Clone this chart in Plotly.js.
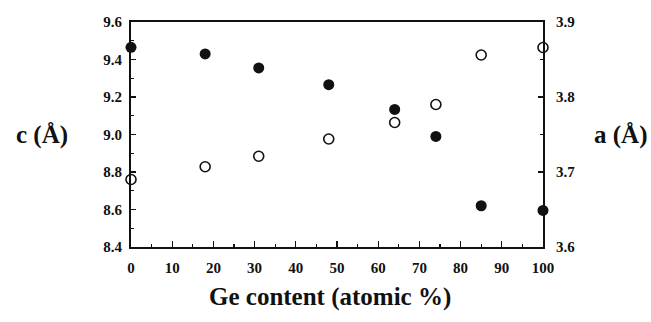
<!DOCTYPE html>
<html><head><meta charset="utf-8">
<script src="https://cdn.plot.ly/plotly-3.0.1.min.js"></script>
<style>body{margin:0;background:#fff}#chart{width:651px;height:322px}</style>
</head><body><div id="chart"></div>
<script>
const geContent = [0, 18, 31, 48, 64, 74, 85, 100];
const cValues = [9.465, 9.43, 9.355, 9.266, 9.134, 8.99, 8.62, 8.595];
const aValues = [3.690, 3.707, 3.721, 3.744, 3.766, 3.790, 3.856, 3.866];
const xTicks = [0, 10, 20, 30, 40, 50, 60, 70, 80, 90, 100];
const cTicks = [8.4, 8.6, 8.8, 9.0, 9.2, 9.4, 9.6];
const aTicks = [3.6, 3.7, 3.8, 3.9];

const serif = '"Liberation Serif", "Times New Roman", Times, "DejaVu Serif", serif';
const tickFont = {family: serif, size: 15, color: '#111', weight: 'bold'};
const titleFont = {family: serif, size: 25, color: '#111', weight: 'bold'};

const traces = [
  {x: geContent, y: cValues, type: 'scatter', mode: 'markers', name: 'c',
   marker: {symbol: 'circle', size: 11, color: '#111'}, cliponaxis: false},
  {x: geContent, y: aValues, type: 'scatter', mode: 'markers', name: 'a', yaxis: 'y2',
   marker: {symbol: 'circle-open', size: 10, color: '#111', line: {width: 1.6, color: '#111'}}, cliponaxis: false}
];

const layout = {
  width: 651, height: 322,
  margin: {l: 131, r: 108, t: 22, b: 75},
  paper_bgcolor: '#fff', plot_bgcolor: '#fff',
  showlegend: false,
  font: {family: serif},
  xaxis: {range: [0, 100], tickvals: xTicks, ticktext: xTicks.map(String),
    ticks: 'inside', ticklen: 6, tickwidth: 1.2, tickcolor: '#111',
    minor: {dtick: 5, ticks: 'inside', ticklen: 3, tickcolor: '#111'},
    showline: true, linecolor: '#111', linewidth: 2, mirror: true,
    showgrid: false, zeroline: false, tickfont: tickFont, ticklabelstandoff: 6},
  yaxis: {range: [8.4, 9.6], tickvals: cTicks, ticktext: cTicks.map(v => v.toFixed(1)),
    ticks: 'inside', ticklen: 5, tickwidth: 1.2, tickcolor: '#111',
    minor: {dtick: 0.1, ticks: 'inside', ticklen: 3, tickcolor: '#111'},
    showline: true, linecolor: '#111', linewidth: 2,
    showgrid: false, zeroline: false, tickfont: tickFont, ticklabelstandoff: 4},
  yaxis2: {range: [3.6, 3.9], overlaying: 'y', side: 'right',
    tickvals: aTicks, ticktext: aTicks.map(v => v.toFixed(1)),
    ticks: 'inside', ticklen: 5, tickwidth: 1.2, tickcolor: '#111',
    minor: {dtick: 0.05, ticks: 'inside', ticklen: 3, tickcolor: '#111'},
    showline: true, linecolor: '#111', linewidth: 2,
    showgrid: false, zeroline: false, tickfont: tickFont, ticklabelstandoff: 8},
  annotations: [
    {text: 'Ge content (atomic %)', xref: 'paper', yref: 'paper', x: 0.483, y: -0.222,
     xanchor: 'center', yanchor: 'middle', showarrow: false, font: titleFont},
    {text: 'c (Å)', xref: 'paper', yref: 'paper', x: -0.216, y: 0.50,
     xanchor: 'center', yanchor: 'middle', showarrow: false, font: titleFont},
    {text: 'a (Å)', xref: 'paper', yref: 'paper', x: 1.189, y: 0.50,
     xanchor: 'center', yanchor: 'middle', showarrow: false, font: titleFont}
  ]
};

Plotly.newPlot('chart', traces, layout, {staticPlot: true});
</script></body></html>
